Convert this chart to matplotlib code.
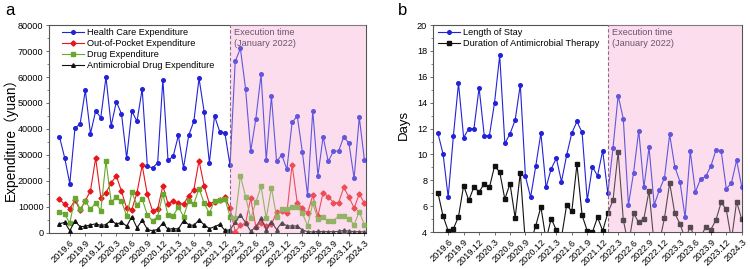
import matplotlib
matplotlib.use("Agg")
import matplotlib.pyplot as plt
from matplotlib.ticker import MultipleLocator

plt.rcParams['font.family'] = ['Liberation Sans', 'Noto Sans CJK SC', 'DejaVu Sans']

# monthly data, 2019.4 - 2024.3 (60 months), policy from 2022.1 (index 33)
tick_labels = ["2019.6", "2019.9", "2019.12", "2020.3", "2020.6", "2020.9", "2020.12",
               "2021.3", "2021.6", "2021.9", "2021.12", "2022.3", "2022.6", "2022.9",
               "2022.12", "2023.3", "2023.6", "2023.9", "2023.12", "2024.3"]
policy_idx = 33

health = [37000, 29000, 19000, 40300, 42000, 54900, 38200, 46900, 44400, 60000,
          41200, 50500, 45800, 28800, 46900, 42900, 55400, 25800, 25000, 27000,
          59000, 28000, 29500, 37500, 25000, 37500, 43000, 59500, 46500, 27000,
          45000, 39000, 38500, 26000,
          66000, 71000, 55500, 31500, 44000, 61000, 28000, 52500, 27500, 30000,
          24500, 42500, 45000, 31000, 14500, 47000, 22000, 37000, 27500, 31500,
          31500, 37000, 34500, 21000, 44500, 28000]
oop = [13000, 11000, 9300, 12700, 8700, 12400, 16200, 28900, 13500, 15500,
       19200, 22000, 16000, 9500, 9000, 15500, 26000, 14800, 8500, 9200,
       18200, 11200, 12200, 11500, 11000, 14400, 16700, 27800, 18000, 11300,
       12000, 12800, 13700, 9500,
       500, 2900, 3800, 13300, 2300, 4000, 2800, 3300, 8000, 8500,
       7800, 26300, 11600, 9500, 7600, 14500, 6500, 15500, 14000, 11700,
       11700, 17500, 13800, 9600, 15000, 11400]
drug = [8200, 7200, 3800, 13600, 9100, 12200, 9200, 11500, 8600, 27700,
        12000, 13700, 12200, 6500, 15600, 10800, 13100, 6900, 4700, 6300,
        14900, 6900, 6500, 10100, 6300, 12300, 11200, 17100, 11400, 7600,
        12400, 12600, 13200, 6300,
        5600, 22000, 14000, 5600, 11900, 17900, 5600, 17400, 6300, 9100,
        9200, 9900, 9900, 7600, 2700, 11400, 5400, 6000, 4500, 4700,
        6500, 6500, 5400, 3200, 8200, 3100]
antimicrobial = [3500, 4100, 900, 4600, 2400, 2600, 3100, 3500, 2900, 3200,
                 5000, 3300, 4200, 2600, 6200, 2000, 4900, 1400, 800, 1400,
                 3800, 1400, 1700, 1500, 4700, 3200, 2900, 5000, 3100, 1700,
                 2400, 3300, 1000, 1200,
                 4200, 6900, 4000, 600, 2400, 5600, 1300, 4400, 1300, 4000,
                 2700, 2700, 2700, 1100, 500, 400, 600, 500, 500, 500,
                 600, 1000, 700, 500, 500, 400]

stay = [11.65, 10.05, 6.7, 11.4, 15.5, 11.3, 12.0, 12.0, 15.15, 11.45,
        11.45, 14.0, 17.65, 10.85, 11.6, 12.65, 15.4, 8.3, 6.7, 9.1,
        11.65, 7.45, 8.9, 9.7, 7.9, 9.95, 11.65, 12.55, 11.7, 6.45,
        9.05, 8.35, 10.3, 7.0,
        10.5, 14.55, 12.75, 6.1, 8.6, 11.85, 7.45, 10.55, 6.1, 7.25,
        8.2, 11.55, 9.05, 7.9, 5.15, 10.25, 7.1, 8.1, 8.3, 9.1,
        10.35, 10.3, 7.35, 7.8, 9.55, 7.5]
duration = [7.05, 5.25, 4.1, 4.25, 5.2, 7.6, 6.45, 7.5, 7.1, 7.75,
            7.45, 9.1, 8.65, 6.55, 7.75, 5.1, 8.6, 3.1, 3.2, 4.5,
            5.95, 3.4, 5.05, 4.15, 3.6, 6.1, 5.6, 9.25, 5.3, 4.1,
            4.0, 5.15, 4.1, 5.5,
            6.45, 10.2, 4.95, 3.0, 5.45, 4.75, 5.05, 7.2, 3.0, 3.2,
            5.1, 7.8, 5.45, 4.65, 3.5, 4.4, 3.5, 3.6, 4.4, 4.2,
            4.95, 6.3, 5.75, 3.4, 6.35, 5.0]

x = list(range(len(health)))
tick_pos = list(range(2, len(health), 3))

BLUE = "#2222d8"
RED = "#e8161c"
GREEN = "#6aa72e"
BLACK = "#111111"
PINK = "#fde4f2"
FRAME = "#555555"
SMALL = 6.6


def style_axes(ax, xlim):
    ax.set_xlim(*xlim)
    ax.axvspan(policy_idx, xlim[1], color=PINK, zorder=0, lw=0)
    ax.axvspan(policy_idx, xlim[1], color="#f8d0e8", alpha=0.3, zorder=4, lw=0)
    ax.axvline(policy_idx, color="#8a6a88", ls=(0, (3, 2)), lw=0.8, zorder=5)
    ax.text(policy_idx + 0.8, 0.985, "Execution time\n(January 2022)", transform=ax.get_xaxis_transform(),
            ha="left", va="top", fontsize=SMALL, color="#6b566b", zorder=6, linespacing=1.25)
    ax.set_xticks(tick_pos)
    ax.set_xticklabels(tick_labels, rotation=45, ha="right", rotation_mode="anchor", fontsize=SMALL)
    ax.tick_params(axis="x", length=2.5, width=0.6, color=FRAME, pad=1.5)
    ax.tick_params(axis="y", which="major", length=2.5, width=0.6, color=FRAME, labelsize=SMALL, pad=1.5)
    ax.tick_params(axis="y", which="minor", length=1.5, width=0.5, color=FRAME)
    for s in ax.spines.values():
        s.set_color(FRAME)
        s.set_linewidth(0.8)


fig = plt.figure(figsize=(7.5, 2.69), dpi=100)
ax1 = fig.add_axes([0.0655, 0.134, 0.4225, 0.773])
ax2 = fig.add_axes([0.577, 0.137, 0.412, 0.770])

leg_kw = dict(loc="upper left", frameon=False, fontsize=SMALL, borderaxespad=0,
              handlelength=2.4, handletextpad=0.3, labelspacing=0.22, borderpad=0.2)

# panel a
mk = dict(lw=0.8, ms=2.6, zorder=3)
ax1.plot(x, health, color=BLUE, marker="o", label="Health Care Expenditure", **mk)
ax1.plot(x, oop, color=RED, marker="D", label="Out-of-Pocket Expenditure", **mk)
ax1.plot(x, drug, color=GREEN, marker="s", label="Drug Expenditure", **mk)
ax1.plot(x, antimicrobial, color=BLACK, marker="^", label="Antimicrobial Drug Expenditure", **mk)
ax1.set_ylim(0, 80000)
ax1.yaxis.set_major_locator(MultipleLocator(10000))
ax1.yaxis.set_minor_locator(MultipleLocator(5000))
style_axes(ax1, (-2, 59.3))
ax1.set_ylabel("Expenditure（yuan）", fontsize=9.8)
ax1.yaxis.set_label_coords(-0.098, 0.466)
ax1.legend(bbox_to_anchor=(0.035, 0.995), **leg_kw)

# panel b
ax2.plot(x, stay, color=BLUE, marker="o", label="Length of Stay", **mk)
ax2.plot(x, duration, color=BLACK, marker="s", label="Duration of Antimicrobial Therapy", **mk)
ax2.set_ylim(4, 20)
ax2.yaxis.set_major_locator(MultipleLocator(2))
ax2.yaxis.set_minor_locator(MultipleLocator(1))
style_axes(ax2, (-1, 59))
ax2.set_ylabel("Days", fontsize=9.5)
ax2.yaxis.set_label_coords(-0.075, 0.52)
ax2.legend(bbox_to_anchor=(0.012, 0.995), **leg_kw)

fig.text(0.007, 0.99, "a", fontsize=12, va="top", ha="left")
fig.text(0.531, 0.99, "b", fontsize=12, va="top", ha="left")

fig.savefig("out.png", dpi=100)
